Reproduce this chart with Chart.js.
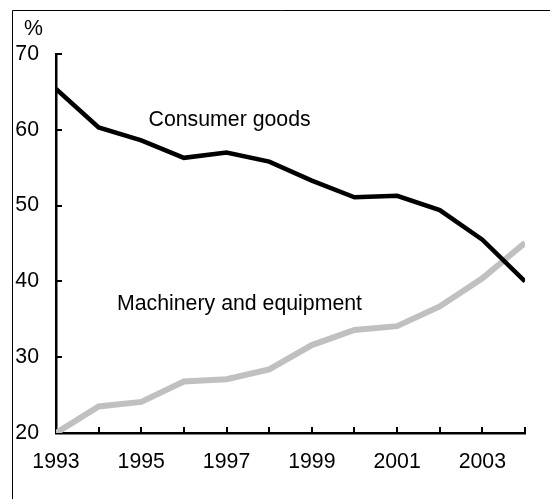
<!DOCTYPE html>
<html>
<head>
<meta charset="utf-8">
<title>Consumer goods vs machinery and equipment</title>
<script src="https://cdn.jsdelivr.net/npm/chart.js@4/dist/chart.umd.min.js"></script>
<style>
  html, body { margin: 0; padding: 0; background: #fff; }
  #wrap { width: 550px; height: 499px; }
</style>
</head>
<body>
<div id="wrap"><canvas id="myChart" width="550" height="499"></canvas></div>
<script>
const years = [1993, 1994, 1995, 1996, 1997, 1998, 1999, 2000, 2001, 2002, 2003, 2004];
const consumerGoods = [65.4, 60.3, 58.6, 56.3, 57.0, 55.8, 53.3, 51.1, 51.3, 49.4, 45.5, 40.0];
const machinery = [20.0, 23.5, 24.1, 26.8, 27.1, 28.4, 31.6, 33.6, 34.1, 36.7, 40.4, 45.1];
const xTickLabels = ['1993', '1995', '1997', '1999', '2001', '2003'];
const yTicks = [20, 30, 40, 50, 60, 70];
const seriesNames = ['Consumer goods', 'Machinery and equipment'];
// where each series name sits, in data units (x = year, y = baseline value)
const nameAnchors = [[1995.17, 60.5], [1994.43, 36.2]];

const FONT = "'Liberation Sans', Arial, sans-serif";
const FONT_SIZE = 21.3;

// frame, small inward ticks, the unit label and the series names
const decorations = {
  id: 'decorations',
  beforeDraw(chart) {
    const ctx = chart.ctx;
    ctx.save();
    ctx.strokeStyle = '#000';
    ctx.lineWidth = 1;
    ctx.beginPath();
    ctx.moveTo(12.5, chart.height);
    ctx.lineTo(12.5, 10.5);
    ctx.lineTo(chart.width, 10.5);
    ctx.stroke();
    ctx.restore();
  },
  afterDraw(chart) {
    const ctx = chart.ctx;
    const xs = chart.scales.x;
    const ys = chart.scales.y;
    const area = chart.chartArea;
    ctx.save();
    ctx.strokeStyle = '#000';
    ctx.lineWidth = 2;
    ctx.beginPath();
    years.slice(1).forEach(yr => {
      const px = Math.round(xs.getPixelForValue(yr));
      ctx.moveTo(px, area.bottom);
      ctx.lineTo(px, area.bottom - 6);
    });
    yTicks.slice(1).forEach(v => {
      const py = Math.round(ys.getPixelForValue(v));
      ctx.moveTo(area.left, py);
      ctx.lineTo(area.left + 6, py);
    });
    ctx.stroke();

    ctx.fillStyle = '#000';
    ctx.font = FONT_SIZE + 'px ' + FONT;
    ctx.textBaseline = 'alphabetic';
    ctx.textAlign = 'left';
    ctx.fillText('%', 24, 35);
    seriesNames.forEach((name, i) => {
      const [ax, ay] = nameAnchors[i];
      ctx.fillText(name, xs.getPixelForValue(ax), ys.getPixelForValue(ay));
    });
    ctx.restore();
  }
};

const toPoints = vals => vals.map((v, i) => ({ x: years[i], y: v }));

const ctx = document.getElementById('myChart').getContext('2d');
new Chart(ctx, {
  type: 'line',
  data: {
    datasets: [
      {
        label: seriesNames[0],
        data: toPoints(consumerGoods),
        borderColor: '#000',
        borderWidth: 4.5,
        pointRadius: 0,
        tension: 0
      },
      {
        label: seriesNames[1],
        data: toPoints(machinery),
        borderColor: '#c0c0c0',
        borderWidth: 6,
        pointRadius: 0,
        tension: 0
      }
    ]
  },
  options: {
    responsive: false,
    animation: false,
    layout: { padding: { top: 54, right: 25, left: 0, bottom: 0 } },
    plugins: {
      legend: { display: false },
      tooltip: { enabled: false }
    },
    scales: {
      x: {
        type: 'linear',
        min: years[0],
        max: years[years.length - 1],
        afterFit: scale => { scale.height = 66; },
        afterBuildTicks: scale => {
          scale.ticks = years.map(v => ({ value: v }));
        },
        grid: { display: false, drawTicks: false },
        border: { display: true, color: '#000', width: 2.5 },
        ticks: {
          autoSkip: false,
          maxRotation: 0,
          padding: 16,
          color: '#000',
          font: { family: FONT, size: FONT_SIZE },
          callback: v => xTickLabels.includes(String(v)) ? String(v) : ''
        }
      },
      y: {
        min: 20,
        max: 70,
        afterFit: scale => { scale.width = 56; },
        afterBuildTicks: scale => {
          scale.ticks = yTicks.map(v => ({ value: v }));
        },
        grid: { display: false, drawTicks: false },
        border: { display: true, color: '#000', width: 2.5 },
        ticks: {
          padding: 17,
          color: '#000',
          font: { family: FONT, size: FONT_SIZE }
        }
      }
    }
  },
  plugins: [decorations]
});
</script>
</body>
</html>
